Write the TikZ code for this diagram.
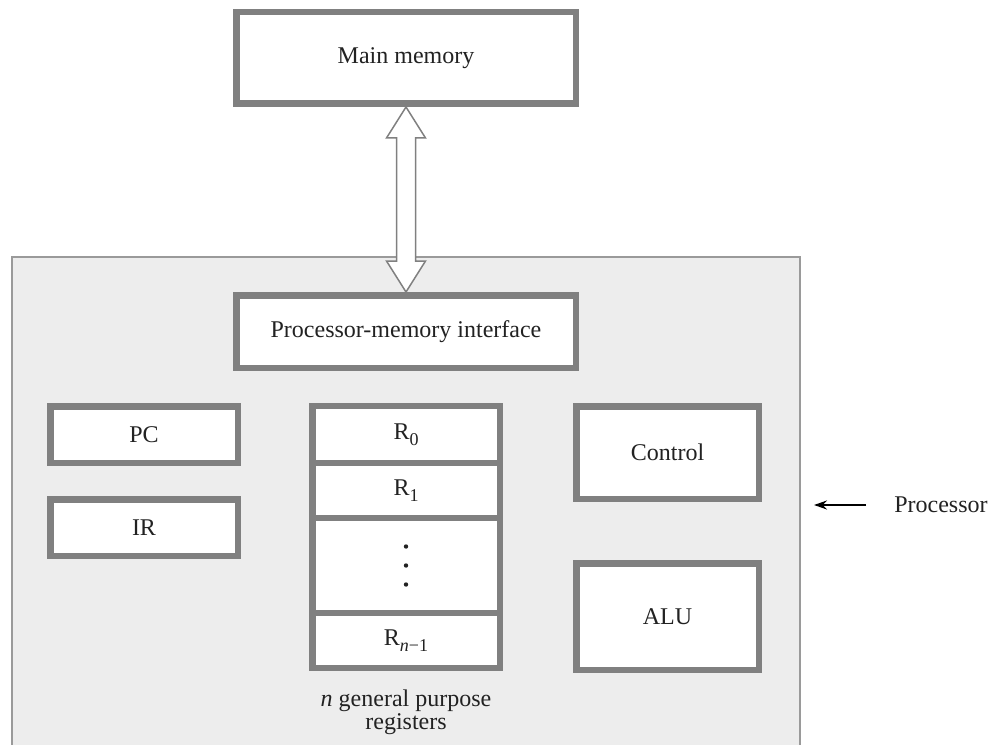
\documentclass[tikz,border=0pt]{standalone}
\usepackage{fontspec}
\setmainfont{Liberation Serif}
\usetikzlibrary{calc,arrows.meta}
\definecolor{boxgray}{HTML}{808080}
\definecolor{procfill}{HTML}{EDEDED}
\definecolor{procline}{HTML}{9A9A9A}
\definecolor{txt}{HTML}{222222}
\newcommand{\regsub}[1]{\raisebox{-0.55ex}{\fontsize{13.5}{13.5}\selectfont #1}}
\begin{document}
\begin{tikzpicture}[x=0.75pt,y=-0.75pt,
  unit/.style={draw=boxgray, line width=6.5*0.75pt, fill=white, text=txt,
    inner sep=0pt, font=\fontsize{18}{21}\selectfont},
  wide/.style={unit, minimum width=339.5*0.75pt},
  small/.style={unit, minimum width=187.5*0.75pt},
  ctl/.style={unit, minimum width=182.5*0.75pt},
  lbl/.style={text=txt, font=\fontsize{18}{15.75}\selectfont, inner sep=0pt},
]
\useasboundingbox (0,0) rectangle (995,745);
% processor area
\draw[procline, fill=procfill, line width=2*0.75pt] (12,257) rectangle (800,770);
% boxes
\node[wide, minimum height=91.5*0.75pt] (mm) at (406,58) {Main memory};
\node[wide, minimum height=72.5*0.75pt] (pmi) at (406,331.5) {Processor-memory interface};
% double arrow (drawn under the box borders)
\draw[boxgray, fill=white, line width=1.5*0.75pt, line join=miter]
  (mm.south) -- ($(mm.south)+(19.5,31)$) -- ($(mm.south)+(9.5,31)$)
  -- ($(pmi.north)+(9.5,-31)$) -- ($(pmi.north)+(19.5,-31)$) -- (pmi.north)
  -- ($(pmi.north)+(-19.5,-31)$) -- ($(pmi.north)+(-9.5,-31)$)
  -- ($(mm.south)+(-9.5,31)$) -- ($(mm.south)+(-19.5,31)$) -- cycle;
\node[wide, minimum height=91.5*0.75pt] at (mm) {Main memory};
\node[wide, minimum height=72.5*0.75pt] at (pmi) {Processor-memory interface};
% PC, IR
\node[small, minimum height=56.5*0.75pt] (pc) at (144,434.5) {PC};
\node[small, minimum height=56.5*0.75pt] (ir) at (144,527.5) {IR};
% registers
\node[small, minimum height=56.75*0.75pt] (r0) at (406,434.6) {R\regsub{0}};
\node[small, minimum height=55*0.75pt] (r1) at (406,490.5) {R\regsub{1}};
\node[small, minimum height=95*0.75pt] (rd) at (406,565.5) {};
\node[small, minimum height=54.75*0.75pt] (rn) at (406,640.4) {R\regsub{\textit{n}−1}};
\fill[txt] ($(rd.center)+(0,-19)$) circle (2.2);
\fill[txt] (rd.center) circle (2.2);
\fill[txt] ($(rd.center)+(0,19)$) circle (2.2);
\node[lbl, align=center, anchor=north] (rlabel) at (406,690) {\textit{n} general purpose\\registers};
% control, ALU
\node[ctl, minimum height=92.5*0.75pt] (ctrl) at (667.5,452.5) {Control};
\node[ctl, minimum height=106.5*0.75pt] (alu) at (667.5,616.5) {ALU};
% processor label
\node[lbl, anchor=west] (plabel) at (894,505) {Processor};
\coordinate (ptip) at (814,505);
\draw[black, line width=2*0.75pt, -{Stealth[length=13*0.75pt, width=9*0.75pt]}]
  ($(plabel.west)+(-28,0)$) -- (ptip);
\end{tikzpicture}
\end{document}
